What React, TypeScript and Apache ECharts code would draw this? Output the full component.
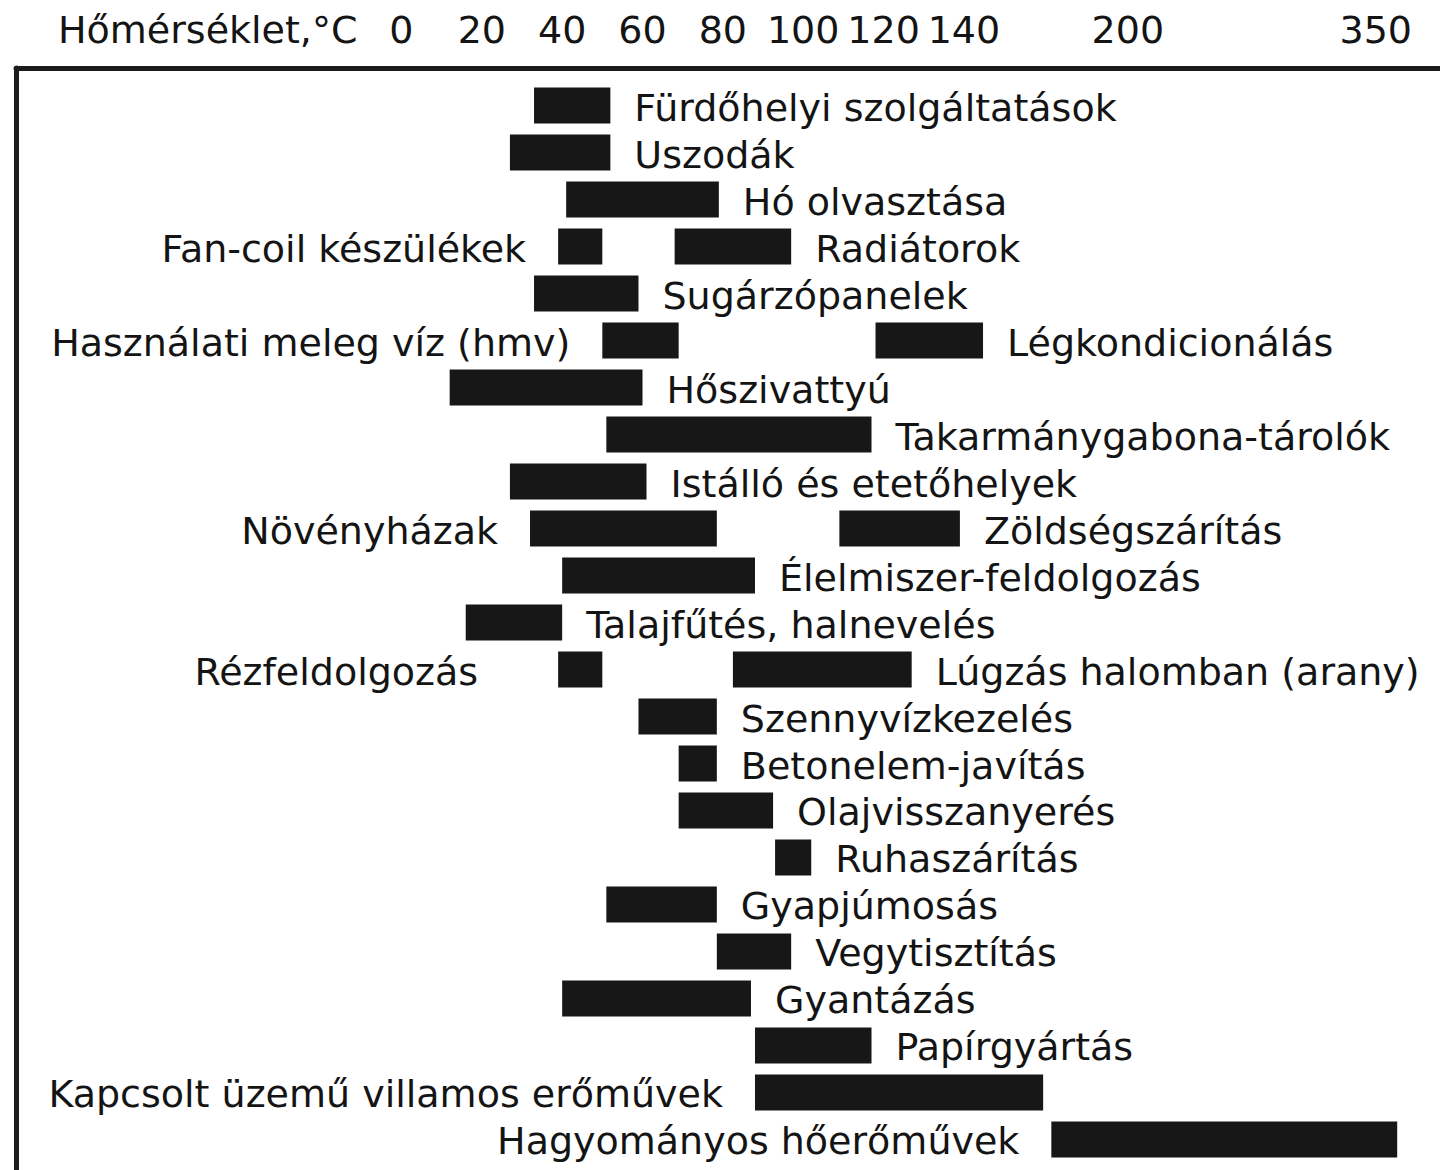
import React, { useEffect, useRef } from "react";
import * as echarts from "echarts";

// Top (broken) temperature scale: labels and their positions on the drawing axis
const tickLabels = ["0", "20", "40", "60", "80", "100", "120", "140", "200", "350"];
const tickTemps = [0, 20, 40, 60, 80, 100, 120, 140, 200, 350];
const tickPositions = [0, 20, 40, 60, 80, 100, 120, 140, 180.8, 242.5];

const axisTitle = "Hőmérséklet,°C";

// Applications (temperature ranges in °C)
const names = [
  "Fürdőhelyi szolgáltatások",
  "Uszodák",
  "Hó olvasztása",
  "Fan-coil készülékek",
  "Radiátorok",
  "Sugárzópanelek",
  "Használati meleg víz (hmv)",
  "Légkondicionálás",
  "Hőszivattyú",
  "Takarmánygabona-tárolók",
  "Istálló és etetőhelyek",
  "Növényházak",
  "Zöldségszárítás",
  "Élelmiszer-feldolgozás",
  "Talajfűtés, halnevelés",
  "Rézfeldolgozás",
  "Lúgzás halomban (arany)",
  "Szennyvízkezelés",
  "Betonelem-javítás",
  "Olajvisszanyerés",
  "Ruhaszárítás",
  "Gyapjúmosás",
  "Vegytisztítás",
  "Gyantázás",
  "Papírgyártás",
  "Kapcsolt üzemű villamos erőművek",
  "Hagyományos hőerőművek",
];
const startTemps = [33, 27, 41, 39, 68, 33, 50, 118, 12, 51, 27, 32, 109, 40, 16, 39, 82.5, 59, 69, 69, 93, 51, 78.5, 40, 88, 88, 172];
const endTemps = [52, 52, 79, 50, 97, 59, 69, 147, 60, 117, 61, 78.5, 139, 88, 40, 50, 127, 78.5, 78.5, 92.5, 102, 78.5, 97, 87, 117, 169, 363];
const rows = [0, 1, 2, 3, 3, 4, 5, 5, 6, 7, 8, 9, 9, 10, 11, 12, 12, 13, 14, 15, 16, 17, 18, 19, 20, 21, 22];
const labelSides = ["r", "r", "r", "l", "r", "r", "l", "r", "r", "r", "r", "l", "r", "r", "r", "l", "r", "r", "r", "r", "r", "r", "r", "r", "r", "l", "l"];

// styling
const FONT = "DejaVu Sans";
const TEXT_COLOR = "#141414";
const BAR_COLOR = "#171717";
const RIGHT_GAP = 24;
const LEFT_GAP = 32;
const gapOverrides: Record<string, number> = { "Rézfeldolgozás": 80 };

function tempToPos(t: number): number {
  for (let i = 1; i < tickTemps.length; i++) {
    if (t <= tickTemps[i] || i === tickTemps.length - 1) {
      const t0 = tickTemps[i - 1], t1 = tickTemps[i];
      const p0 = tickPositions[i - 1], p1 = tickPositions[i];
      return p0 + ((t - t0) / (t1 - t0)) * (p1 - p0);
    }
  }
  return t;
}

function posToLabel(v: number): string {
  let best = 0;
  for (let i = 1; i < tickPositions.length; i++) {
    if (Math.abs(tickPositions[i] - v) < Math.abs(tickPositions[best] - v)) best = i;
  }
  return tickLabels[best];
}

export default function App() {
  const ref = useRef<HTMLDivElement>(null);
  useEffect(() => {
    document.body.style.margin = "0";
    if (!ref.current) return;
    const chart = echarts.init(ref.current, null, { renderer: "svg" });
    const data = names.map((n, i) => ({
      name: n,
      value: [tempToPos(startTemps[i]), tempToPos(endTemps[i]), rows[i]],
    }));
    chart.setOption({
      animation: false,
      backgroundColor: "#ffffff",
      title: {
        text: axisTitle,
        left: 58,
        top: 8,
        padding: 0,
        textStyle: { fontFamily: FONT, fontSize: 38, fontWeight: "normal", color: TEXT_COLOR, lineHeight: 44 },
      },
      grid: { left: 16, right: 0, top: 68, bottom: 0, containLabel: false },
      xAxis: {
        type: "value",
        position: "top",
        min: -95.94,
        max: 258.5,
        axisLine: { show: true, onZero: false, lineStyle: { color: "#1c1c1c", width: 5 } },
        axisTick: { show: false },
        splitLine: { show: false },
        axisLabel: {
          customValues: tickPositions,
          formatter: (v: number) => posToLabel(v),
          margin: 38,
          verticalAlign: "middle",
          fontFamily: FONT,
          fontSize: 38,
          color: TEXT_COLOR,
        },
      },
      yAxis: {
        type: "value",
        inverse: true,
        min: -0.798,
        max: 22.649,
        axisLine: { show: true, onZero: false, lineStyle: { color: "#1c1c1c", width: 5 } },
        axisTick: { show: false },
        axisLabel: { show: false },
        splitLine: { show: false },
      },
      series: [
        {
          type: "custom",
          clip: false,
          encode: { x: [0, 1], y: 2 },
          data,
          renderItem: (params: any, api: any) => {
            const idx = params.dataIndex;
            const r = api.value(2);
            const p0 = api.coord([api.value(0), r]);
            const p1 = api.coord([api.value(1), r]);
            const h = api.size([0, 1])[1] * 0.77;
            const right = labelSides[idx] === "r";
            const name = names[idx];
            const gap = gapOverrides[name] ?? (right ? RIGHT_GAP : LEFT_GAP);
            return {
              type: "group",
              children: [
                {
                  type: "rect",
                  shape: { x: p0[0], y: p0[1] - h / 2, width: p1[0] - p0[0], height: h },
                  style: { fill: BAR_COLOR },
                },
                {
                  type: "text",
                  x: right ? p1[0] + gap : p0[0] - gap,
                  y: p0[1] + 2,
                  style: {
                    text: name,
                    align: right ? "left" : "right",
                    verticalAlign: "middle",
                    fontFamily: FONT,
                    fontSize: 38,
                    fill: TEXT_COLOR,
                  },
                },
              ],
            };
          },
        },
      ],
    });
    return () => chart.dispose();
  }, []);
  return <div ref={ref} style={{ width: 1440, height: 1170 }} />;
}
